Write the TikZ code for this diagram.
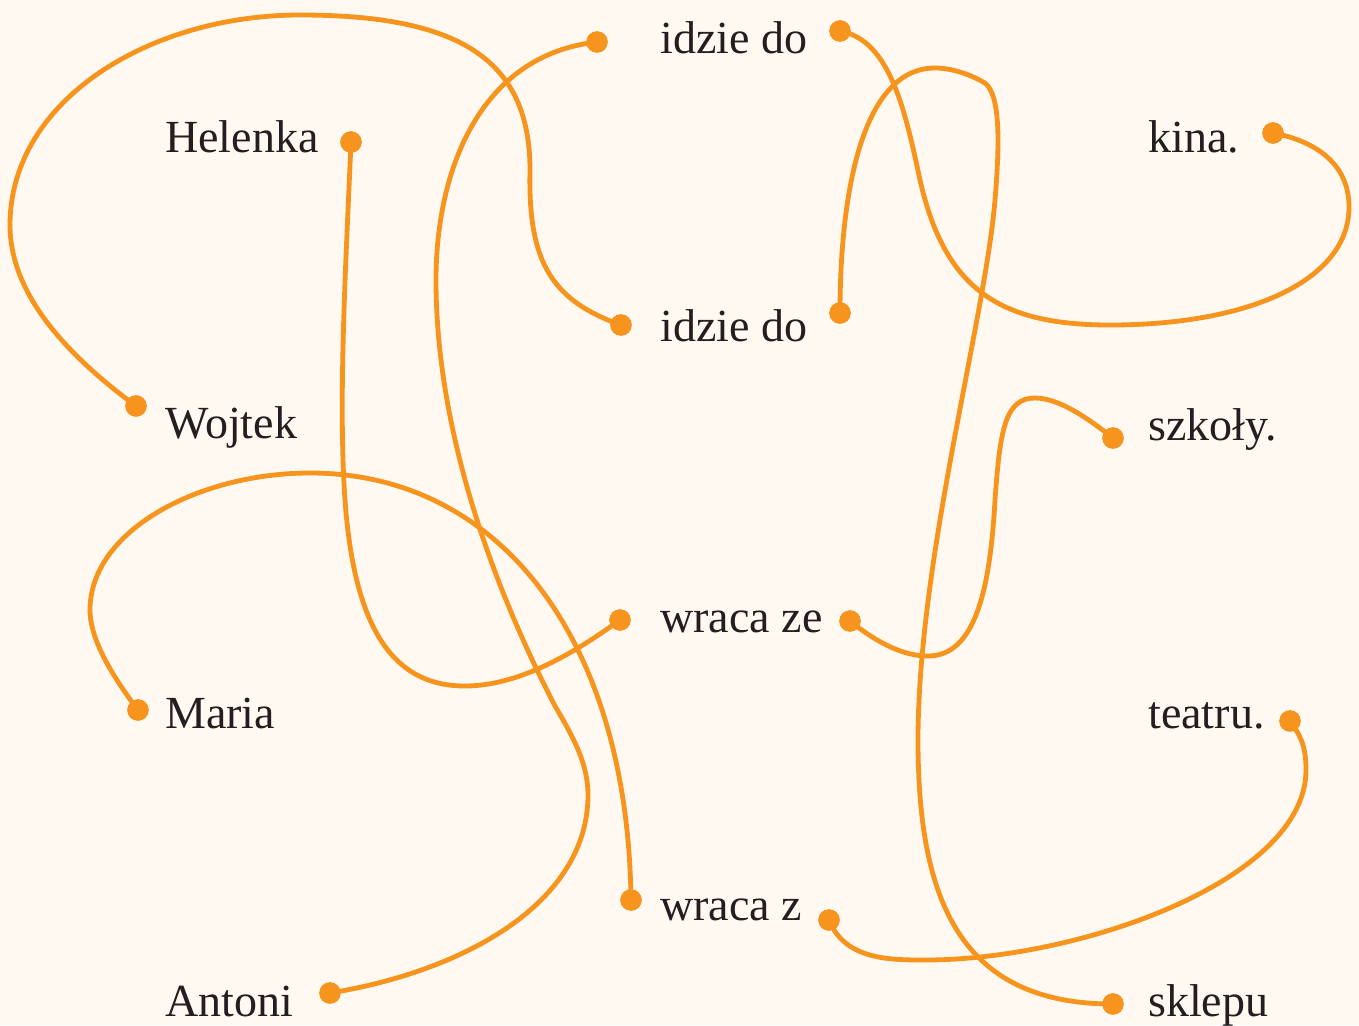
\documentclass[tikz,border=0pt]{standalone}
\usepackage{fontspec}
\setmainfont{Liberation Serif}
\usepackage{tikz}
\usetikzlibrary{shapes}
\usetikzlibrary{positioning}
\definecolor{paper}{HTML}{FFF9F2}
\definecolor{ink}{HTML}{231F20}
\definecolor{orng}{HTML}{F7941D}

\begin{document}
\begin{tikzpicture}[x=0.75pt,y=-0.75pt]
		\tikzstyle{dot}=[draw=none,fill=orng,shape=circle,inner sep=0pt,minimum size=16pt];
		\tikzstyle{word}=[anchor=base west,inner sep=0pt,text=ink,font=\fontsize{34.5}{40}\selectfont];
		\tikzstyle{link}=[draw=orng,line width=3.6pt,line cap=round];
		\fill[paper] (0,0) rectangle (1359,1025);
		\useasboundingbox (0,0) rectangle (1359,1025);
		% words
		\path (165,152)  node[word] (helenka) {Helenka};
		\path (165,438)  node[word] (wojtek)  {Wojtek};
		\path (165,728)  node[word] (maria)   {Maria};
		\path (165,1016) node[word] (antoni)  {Antoni};
		\path (660,53)   node[word] (idzieA)  {idzie do};
		\path (660,341)  node[word] (idzieB)  {idzie do};
		\path (660,632)  node[word] (wracaE)  {wraca ze};
		\path (660,920)  node[word] (wracaZ)  {wraca z};
		\path (1148,152) node[word] (kina)    {kina.};
		\path (1148,440) node[word] (szkoly)  {szkoły.};
		\path (1148,728) node[word] (teatru)  {teatru.};
		\path (1148,1016) node[word] (sklepu) {sklepu};
		% dots
		\path (351,142)  node[dot] (dHelenka) {};
		\path (136,406)  node[dot] (dWojtek)  {};
		\path (138,710)  node[dot] (dMaria)   {};
		\path (330,993)  node[dot] (dAntoni)  {};
		\path (597,42)   node[dot] (dIdzieAl) {};
		\path (840,31)   node[dot] (dIdzieAr) {};
		\path (621,325)  node[dot] (dIdzieBl) {};
		\path (840,313)  node[dot] (dIdzieBr) {};
		\path (620,620)  node[dot] (dWracaEl) {};
		\path (850,621)  node[dot] (dWracaEr) {};
		\path (631,900)  node[dot] (dWracaZl) {};
		\path (829,920)  node[dot] (dWracaZr) {};
		\path (1273,133) node[dot] (dKina)    {};
		\path (1113,438) node[dot] (dSzkoly)  {};
		\path (1290,721) node[dot] (dTeatru)  {};
		\path (1113,1004) node[dot] (dSklepu) {};
		% left to middle
		\draw[link] (dWojtek.center) .. controls (60,350) and (10,290) .. (10,225)
		.. controls (10,100) and (150,15) .. (300,15)
		.. controls (460,15) and (530,60) .. (530,170)
		.. controls (528,260) and (550,300) .. (dIdzieBl.center);
		\draw[link] (dHelenka.center) .. controls (346,260) and (338,400) .. (345,500)
		.. controls (355,640) and (400,686) .. (465,686)
		.. controls (525,686) and (585,645) .. (dWracaEl.center);
		\draw[link] (dIdzieAl.center) .. controls (480,55) and (436,170) .. (436,280)
		.. controls (436,440) and (500,600) .. (555,706)
		.. controls (575,740) and (588,765) .. (588,795)
		.. controls (588,900) and (470,970) .. (dAntoni.center);
		\draw[link] (dMaria.center) .. controls (100,660) and (90,630) .. (90,610)
		.. controls (90,530) and (200,473) .. (310,473)
		.. controls (500,473) and (628,640) .. (dWracaZl.center);
		% middle to right
		\draw[link] (dIdzieAr.center) .. controls (890,40) and (905,110) .. (920,180)
		.. controls (945,290) and (1000,325) .. (1110,325)
		.. controls (1250,325) and (1349,280) .. (1349,207)
		.. controls (1349,160) and (1310,140) .. (dKina.center);
		\draw[link] (dIdzieBr.center) .. controls (840,200) and (860,68) .. (935,68)
		.. controls (955,68) and (975,77) .. (985,83)
		.. controls (1000,95) and (1000,140) .. (995,200)
		.. controls (985,320) and (918,560) .. (918,740)
		.. controls (918,900) and (960,1004) .. (dSklepu.center);
		\draw[link] (dWracaEr.center) .. controls (880,645) and (905,656) .. (928,656)
		.. controls (975,656) and (990,590) .. (995,500)
		.. controls (1000,430) and (1005,398) .. (1035,398)
		.. controls (1060,398) and (1090,420) .. (dSzkoly.center);
		\draw[link] (dWracaZr.center) .. controls (845,960) and (890,960) .. (925,960)
		.. controls (1080,960) and (1306,880) .. (1306,770)
		.. controls (1306,745) and (1300,735) .. (dTeatru.center);
		% dots on top of the links
		\foreach \d in {dHelenka,dWojtek,dMaria,dAntoni,dIdzieAl,dIdzieAr,dIdzieBl,dIdzieBr,dWracaEl,dWracaEr,dWracaZl,dWracaZr,dKina,dSzkoly,dTeatru,dSklepu}
			\fill[orng] (\d) circle (8pt);
		\end{tikzpicture}
\end{document}
